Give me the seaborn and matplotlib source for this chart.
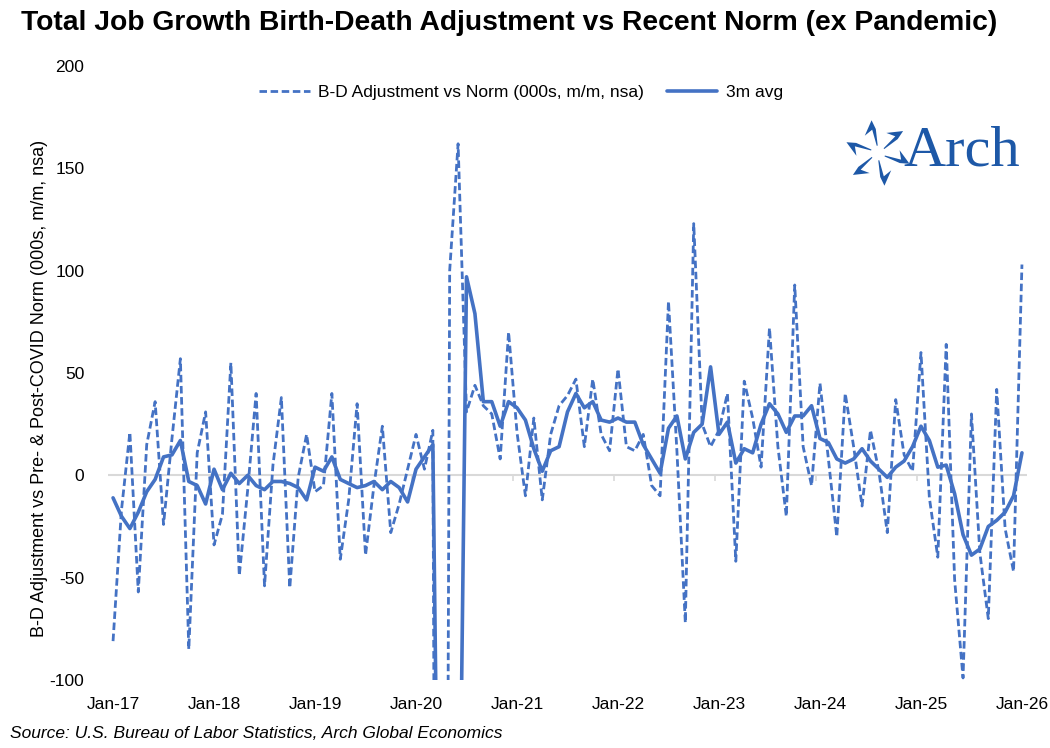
import numpy as np
import pandas as pd
import matplotlib
matplotlib.use('Agg')
import matplotlib.pyplot as plt
import seaborn as sns
from matplotlib.patches import Polygon

# monthly data, Jan-17 .. Jan-26
months = pd.date_range('2017-01-01', '2026-01-01', freq='MS')

bd_adj = [-81, -17, 21, -57, 15, 36, -24, 18, 57, -85, 11, 31,
          -34, -19, 55, -49, -7, 40, -54, 5, 38, -55, -1, 20,
          -8, -5, 40, -41, -12, 35, -39, -5, 24, -28, -14, 3,
          20, 3, 22, -1000, 100, 162, 31, 44, 34, 30, 8, 70,
          21, -10, 28, -12, 20, 34, 39, 47, 14, 47, 20, 12,
          52, 14, 12, 20, -5, -10, 85, 12, -72, 123, 25, 14,
          22, 40, -42, 46, 28, 4, 72, 14, -20, 93, 14, -5,
          45, 8, -30, 40, 14, -15, 22, 2, -28, 37, 10, 2,
          60, -11, -40, 64, -51, -99, 30, -38, -70, 42, -26, -47,
          103]

avg_3m = [-11, -20, -26, -18, -8, -2, 9, 10, 17, -3, -5, -14,
          3, -7, 1, -4, 0, -5, -7, -3, -3, -4, -6, -12,
          4, 2, 9, -2, -4, -6, -5, -3, -7, -3, -6, -13,
          3, 9, 15, -325, -293, -246, 97, 79, 36, 36, 24, 36,
          33, 27, 13, 2, 12, 14, 31, 40, 33, 36, 27, 26,
          28, 26, 26, 15, 8, 1, 23, 29, 8, 21, 25, 53,
          20, 26, 6, 13, 11, 25, 35, 30, 21, 29, 29, 34,
          18, 16, 8, 6, 8, 13, 7, 3, -1, 4, 7, 14,
          24, 17, 4, 5, -9, -29, -39, -36, -25, -22, -18, -10,
          11]

yticks = [-100, -50, 0, 50, 100, 150, 200]
blue = '#4472C4'

df = pd.DataFrame({'t': np.arange(len(months)), 'bd': bd_adj, 'avg': avg_3m})

sns.set_style('white')
plt.rcParams['font.family'] = ['Liberation Sans', 'DejaVu Sans']
plt.rcParams['text.color'] = 'black'
plt.rcParams['xtick.color'] = 'black'
plt.rcParams['ytick.color'] = 'black'

W, H = 1050, 748
fig = plt.figure(figsize=(W / 100, H / 100), dpi=100)
ax = fig.add_axes([108 / W, 1 - 680 / H, (1027 - 108) / W, (680 - 66) / H])

# zero line with year ticks (between months, like excel)
ax.axhline(0, color='#d9d9d9', lw=1.5, zorder=1)
year_ticks = [i - 0.5 for i in range(12, len(months), 12)]
ax.vlines(year_ticks, -2.6, 0, color='#d9d9d9', lw=1.2, zorder=1)

sns.lineplot(data=df, x='t', y='bd', ax=ax, color=blue, lw=2.0,
             linestyle=(0, (2.7, 1.3)), label='B-D Adjustment vs Norm (000s, m/m, nsa)', zorder=3)
sns.lineplot(data=df, x='t', y='avg', ax=ax, color=blue, lw=2.6,
             label='3m avg', zorder=4)

ax.set_xlim(-0.6, len(months) - 0.4)
ax.set_ylim(-100, 200)
ax.set_yticks(yticks)
ax.set_yticklabels([str(v) for v in yticks])
xt = list(range(0, len(months), 12))
ax.set_xticks(xt)
ax.set_xticklabels([months[i].strftime('%b-%y') for i in xt])
ax.tick_params(axis='y', length=0, pad=17, labelsize=12.5)
ax.tick_params(axis='x', length=0, pad=12, labelsize=12.5)
ax.set_xlabel('')
ax.set_ylabel('')
for s in ax.spines.values():
    s.set_visible(False)

ax.legend(loc='center', bbox_to_anchor=(521 / W, 1 - 92 / H), bbox_transform=fig.transFigure,
          ncol=2, frameon=False, fontsize=12.5, handlelength=2.9, columnspacing=1.3,
          handletextpad=0.5)

fig.text(40 / W, 1 - 388 / H, 'B-D Adjustment vs Pre- & Post-COVID Norm (000s, m/m, nsa)',
         rotation=90, ha='center', va='center', fontsize=13)
fig.text(509 / W, 1 - 23 / H,
         'Total Job Growth Birth-Death Adjustment vs Recent Norm (ex Pandemic)',
         ha='center', va='center', fontsize=20.3, fontweight='bold')
fig.text(10 / W, 1 - 733 / H, 'Source: U.S. Bureau of Labor Statistics, Arch Global Economics',
         ha='left', va='center', fontsize=12.5, style='italic')

# Arch logo
logo_blue = '#1d58a7'
fig.text(903 / W, 1 - 151 / H, 'Arch', ha='left', va='center', fontsize=42,
         family='Liberation Serif', color=logo_blue)
lax = fig.add_axes([843 / W, 1 - 188 / H, 70 / W, 70 / H])
lax.set_xlim(-1.05, 1.05)
lax.set_ylim(-1.05, 1.05)
lax.set_aspect('equal')
lax.axis('off')
arm = np.array([[0.22, 0.0], [0.72, 0.05], [0.58, 0.30], [1.0, 0.02], [0.72, -0.06], [0.22, -0.03]])
for k in range(6):
    a = np.deg2rad(100 + 60 * k)
    rot = np.array([[np.cos(a), -np.sin(a)], [np.sin(a), np.cos(a)]])
    lax.add_patch(Polygon(arm @ rot.T, closed=True, color=logo_blue, lw=0))

fig.savefig('out.png', dpi=100)
